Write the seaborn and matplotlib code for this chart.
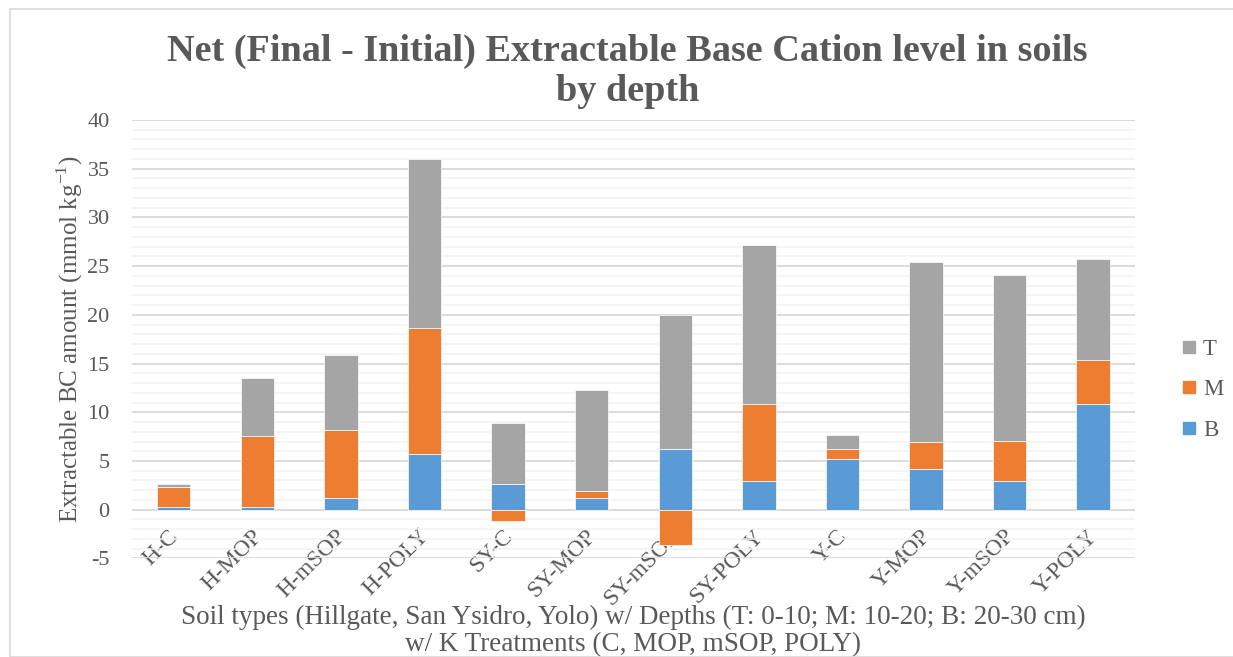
import numpy as np
import pandas as pd
import matplotlib
matplotlib.use("Agg")
import matplotlib.pyplot as plt
from matplotlib.patches import Rectangle
from matplotlib.lines import Line2D
from matplotlib.ticker import MultipleLocator
from matplotlib.transforms import ScaledTranslation
import seaborn as sns

categories = ["H-C", "H-MOP", "H-mSOP", "H-POLY", "SY-C", "SY-MOP", "SY-mSOP",
              "SY-POLY", "Y-C", "Y-MOP", "Y-mSOP", "Y-POLY"]
B = [0.3, 0.3, 1.2, 5.75, 2.65, 1.2, 6.25, 2.95, 5.25, 4.2, 2.9, 10.85]
M = [2.05, 7.25, 6.95, 12.9, -1.15, 0.75, -3.6, 7.9, 1.0, 2.8, 4.15, 4.55]
T = [0.3, 5.95, 7.75, 17.3, 6.3, 10.3, 13.7, 16.3, 1.4, 18.45, 17.0, 10.35]

title = "Net (Final - Initial) Extractable Base Cation level in soils\nby depth"
ylabel = "Extractable BC amount (mmol kg$^{\\mathregular{-1}}$)"
xlabel = ("Soil types (Hillgate, San Ysidro, Yolo) w/ Depths (T: 0-10; M: 10-20; B: 20-30 cm)\n"
          "w/ K Treatments (C, MOP, mSOP, POLY)")

colors = {"T": "#A5A5A5", "M": "#ED7D31", "B": "#5B9BD5"}
text_color = "#595959"

sns.set_theme(style="white")
plt.rcParams["font.family"] = ["Liberation Serif", "DejaVu Serif"]
plt.rcParams["mathtext.fontset"] = "custom"
plt.rcParams["mathtext.rm"] = "Liberation Serif"
plt.rcParams["axes.unicode_minus"] = False

df = pd.DataFrame({"cat": categories, "B": B, "M": M, "T": T})
df["M_bottom"] = np.where(df["M"] >= 0, df["B"], 0.0)
df["T_bottom"] = df["B"] + df["M"].clip(lower=0)

fig = plt.figure(figsize=(12.33, 6.57), dpi=100)
ax = fig.add_axes([0.107, 0.150, 0.8135, 0.6675])

# chart frame (Excel chart area border)
fig.patches.append(Rectangle((10 / 1233, 0), 1.0, 1 - 9 / 657, transform=fig.transFigure,
                             fill=False, edgecolor="#D9D9D9", linewidth=1.2, zorder=0))

w = 0.4
common = dict(x="cat", width=w, ax=ax, saturation=1, edgecolor="white", linewidth=0.5, zorder=3)
sns.barplot(data=df, y="B", color=colors["B"], label="B", **common)
sns.barplot(data=df, y="M", color=colors["M"], label="M", bottom=df["M_bottom"].values, **common)
sns.barplot(data=df, y="T", color=colors["T"], label="T", bottom=df["T_bottom"].values, **common)

ax.set_ylim(-5, 40)
ax.set_xlim(-0.5, len(categories) - 0.5)
ax.yaxis.set_major_locator(MultipleLocator(5))
ax.yaxis.set_minor_locator(MultipleLocator(1))
ax.grid(axis="y", which="major", color="#D9D9D9", linewidth=1.3, zorder=0)
ax.grid(axis="y", which="minor", color="#F2F2F2", linewidth=1.1, zorder=0)
ax.set_axisbelow(True)
for s in ax.spines.values():
    s.set_visible(False)

ax.tick_params(axis="y", length=0, pad=16, labelsize=16, labelcolor=text_color)
ax.tick_params(axis="x", length=0, pad=0, labelsize=17, labelcolor=text_color)
ax.set_xticks(range(len(categories)))
ax.set_xticklabels(categories, rotation=45, ha="right", va="top", rotation_mode="anchor")
shift = ScaledTranslation(-6 / 100, 0, fig.dpi_scale_trans)
for lbl in ax.get_xticklabels():
    lbl.set_y(0.075)
    lbl.set_transform(lbl.get_transform() + shift)

ax.set_ylabel(ylabel, fontsize=18, color=text_color, labelpad=2)
ax.set_xlabel(xlabel, fontsize=19.5, color=text_color, linespacing=1.12, va="center")
ax.xaxis.set_label_coords(0.5, -0.165)
fig.suptitle(title, fontsize=27.5, fontweight="bold", color=text_color,
             x=0.509, y=0.948, linespacing=1.17)

leg_handles = [Line2D([], [], marker="s", linestyle="none", markersize=9,
                      markerfacecolor=colors[k], markeredgecolor=colors[k]) for k in ["T", "M", "B"]]
ax.legend(leg_handles, ["T", "M", "B"], loc="center left", bbox_to_anchor=(1.022, 0.385),
          frameon=False, fontsize=16.5, labelcolor=text_color, handletextpad=0.1,
          labelspacing=0.85, handlelength=1.0)

fig.savefig("out.png", dpi=100)
